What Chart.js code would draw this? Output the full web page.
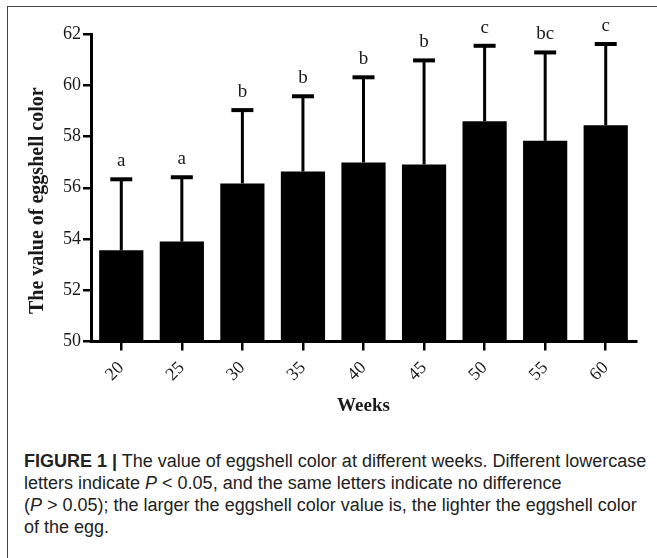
<!DOCTYPE html>
<html>
<head>
<meta charset="utf-8">
<script src="https://cdn.jsdelivr.net/npm/chart.js@4/dist/chart.umd.min.js"></script>
<style>
    html, body { margin: 0; padding: 0; background: #fff; overflow: hidden; }
    body { width: 657px; height: 558px; position: relative; }
    .frame {
        position: absolute; left: 7px; top: 6px; width: 720px; height: 620px;
        border: 1.5px solid #444;
    }
    .chart-wrap { position: absolute; left: 0; top: 0; width: 657px; height: 420px; }
    .caption {
        position: absolute; left: 24px; top: 450px;
        font-family: "Liberation Sans", Arial, sans-serif; font-size: 18px;
        line-height: 22px; color: #222; white-space: nowrap;
    }
    .caption b { font-weight: bold; }
</style>
</head>
<body>
<div class="frame"></div>
<div class="chart-wrap"><canvas id="eggChart" width="657" height="420"></canvas></div>
<div class="caption">
    <b>FIGURE 1 |</b> The value of eggshell color at different weeks. Different lowercase<br>
    letters indicate <i>P</i> &lt; 0.05, and the same letters indicate no difference<br>
    (<i>P</i> &gt; 0.05); the larger the eggshell color value is, the lighter the eggshell color<br>
    of the egg.
</div>
<script>
const weeks = ["20", "25", "30", "35", "40", "45", "50", "55", "60"];
const colorValues = [53.56, 53.9, 56.17, 56.63, 56.99, 56.91, 58.6, 57.83, 58.44];
const errorValues = [2.77, 2.51, 2.86, 2.94, 3.32, 4.06, 2.94, 3.45, 3.17];
const sigLetters = ["a", "a", "b", "b", "b", "b", "c", "bc", "c"];
const yTitle = "The value of eggshell color";

const serif = "'Liberation Serif', 'Times New Roman', serif";

// error bars + letters drawn on top of the bars, y title sits a bit below centre
const errorBarPlugin = {
    id: "errorBars",
    afterDatasetsDraw(chart) {
        const { ctx, scales, chartArea } = chart;
        const meta = chart.getDatasetMeta(0);
        ctx.save();
        ctx.strokeStyle = "#000";
        ctx.fillStyle = "#1a1a1a";
        ctx.font = "19px " + serif;
        ctx.textAlign = "center";
        ctx.textBaseline = "alphabetic";
        meta.data.forEach((bar, i) => {
            const yBar = scales.y.getPixelForValue(colorValues[i]);
            const yTop = scales.y.getPixelForValue(colorValues[i] + errorValues[i]);
            ctx.lineWidth = 3;
            ctx.beginPath();
            ctx.moveTo(bar.x, yBar);
            ctx.lineTo(bar.x, yTop);
            ctx.stroke();
            ctx.lineWidth = 4;
            ctx.beginPath();
            ctx.moveTo(bar.x - 11, yTop);
            ctx.lineTo(bar.x + 11, yTop);
            ctx.stroke();
            ctx.fillText(sigLetters[i], bar.x, yTop - 13);
        });

        ctx.translate(38, (chartArea.top + chartArea.bottom) / 2 + 13);
        ctx.rotate(-Math.PI / 2);
        ctx.font = "bold 20px " + serif;
        ctx.textBaseline = "middle";
        ctx.fillText(yTitle, 0, 0);
        ctx.restore();
    },
};

new Chart(document.getElementById("eggChart"), {
    type: "bar",
    data: {
        labels: weeks,
        datasets: [
            {
                data: colorValues,
                backgroundColor: "#000",
                borderWidth: 0,
                barPercentage: 0.73,
                categoryPercentage: 1,
            },
        ],
    },
    options: {
        responsive: false,
        animation: false,
        layout: { padding: { top: 34, right: 21, left: 0, bottom: 0 } },
        plugins: { legend: { display: false }, tooltip: { enabled: false } },
        scales: {
            x: {
                grid: { drawOnChartArea: false, offset: false, color: "#000", lineWidth: 2.5, tickLength: 9 },
                border: { color: "#000", width: 3 },
                ticks: {
                    color: "#1a1a1a",
                    font: { family: serif, size: 18 },
                    minRotation: 45,
                    maxRotation: 45,
                    padding: 7,
                },
                title: {
                    display: true,
                    text: "Weeks",
                    color: "#1a1a1a",
                    font: { family: serif, size: 19, weight: "bold" },
                    padding: { top: 0, bottom: 3 },
                },
                afterFit(scale) {
                    scale.height = 78.5;
                },
            },
            y: {
                min: 50,
                max: 62,
                grid: { drawOnChartArea: false, color: "#000", lineWidth: 2.5, tickLength: 8 },
                border: { color: "#000", width: 3 },
                ticks: {
                    stepSize: 2,
                    color: "#1a1a1a",
                    font: { family: serif, size: 18 },
                    padding: 2,
                },
                afterFit(scale) {
                    scale.width = 91;
                },
            },
        },
    },
    plugins: [errorBarPlugin],
});
</script>
</body>
</html>
